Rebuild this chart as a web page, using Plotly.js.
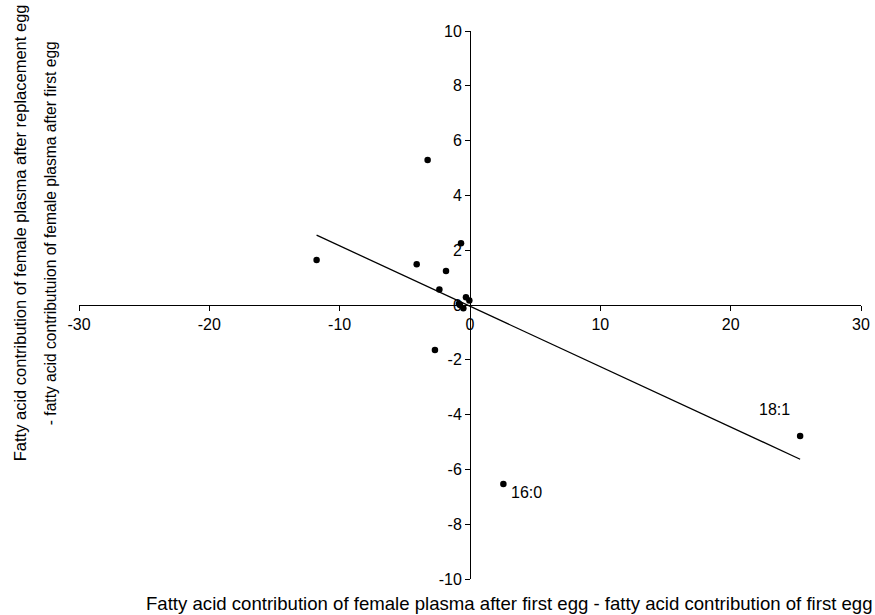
<!DOCTYPE html>
<html>
<head>
<meta charset="utf-8">
<script src="https://cdn.plot.ly/plotly-3.0.1.min.js"></script>
<style>html,body{margin:0;padding:0;background:#fff;}#chart{width:875px;height:615px;}</style>
</head>
<body>
<div id="chart"></div>
<script>
// Data points (x: plasma after first egg - first egg; y: plasma after replacement egg - plasma after first egg)
var ptX = [-3.25, -11.77, -4.09, -1.84, -0.69, -2.35, -0.31, -0.05, -0.77, -0.51, -0.85, -2.69, 2.56, 25.33];
var ptY = [5.29, 1.64, 1.49, 1.24, 2.25, 0.57, 0.28, 0.16, 0.00, -0.12, 0.05, -1.64, -6.53, -4.78];
// Fitted trend line endpoints
var fitX = [-11.77, 25.33];
var fitY = [2.55, -5.63];
// Point labels
var labelText = ["18:1", "16:0"];
var labelX = [23.4, 4.3];
var labelY = [-3.83, -6.86];
var xTicks = [-30, -20, -10, 0, 10, 20, 30];
var yTicks = [-10, -8, -6, -4, -2, 0, 2, 4, 6, 8, 10];
var xTitle = "Fatty acid contribution of female plasma after first egg - fatty acid contribution of first egg";
var yTitleLines = ["Fatty acid contribution of female plasma after replacement egg",
                   "- fatty acid contributuion of female plasma after first egg"];

var family = "Liberation Sans, Arial, sans-serif";
var font = {family: family, size: 16, color: "#000"};

var traces = [
  {x: fitX, y: fitY, mode: "lines", type: "scatter", line: {color: "#000", width: 1.3}, hoverinfo: "skip"},
  {x: ptX, y: ptY, mode: "markers", type: "scatter", marker: {color: "#000", size: 6.5}}
];

var annotations = labelText.map(function (t, i) {
  return {x: labelX[i], y: labelY[i], xref: "x", yref: "y", text: t, showarrow: false, font: font};
});
annotations.push({
  xref: "paper", yref: "paper", x: 0.551, y: -0.044, text: xTitle,
  showarrow: false, font: {family: family, size: 18.6, color: "#000"}, xanchor: "center", yanchor: "middle"
});
var yLinePos = [{x: -0.0754, y: 0.631, s: 16.5}, {x: -0.0371, y: 0.631, s: 15.6}];
yTitleLines.forEach(function (t, i) {
  annotations.push({
    xref: "paper", yref: "paper", x: yLinePos[i].x, y: yLinePos[i].y, textangle: -90, text: t,
    showarrow: false, font: {family: family, size: yLinePos[i].s, color: "#000"}, xanchor: "center", yanchor: "middle"
  });
});

var axisCommon = {
  showgrid: false, zeroline: false, showline: true, linecolor: "#000", linewidth: 1,
  ticks: "outside", ticklen: 5, tickcolor: "#000", tickwidth: 1,
  anchor: "free", position: 0.5, tickfont: font, fixedrange: true
};

var layout = {
  width: 875, height: 615,
  margin: {l: 79, r: 14, t: 31, b: 36},
  paper_bgcolor: "#fff", plot_bgcolor: "#fff",
  showlegend: false,
  font: font,
  xaxis: Object.assign({}, axisCommon, {range: [-30, 30], tickvals: xTicks, ticktext: xTicks.map(String)}),
  yaxis: Object.assign({}, axisCommon, {range: [-10, 10], tickvals: yTicks, ticktext: yTicks.map(String)}),
  annotations: annotations
};

Plotly.newPlot("chart", traces, layout, {displayModeBar: false, staticPlot: true});
</script>
</body>
</html>
